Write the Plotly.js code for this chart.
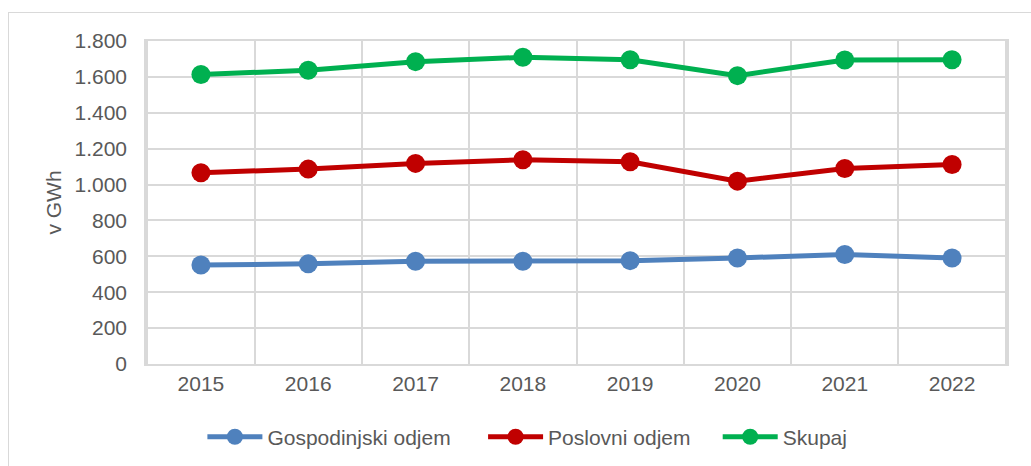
<!DOCTYPE html>
<html>
<head>
<meta charset="utf-8">
<script src="https://cdn.plot.ly/plotly-3.0.1.min.js"></script>
<style>
  html, body { margin: 0; padding: 0; background: #fff; }
  #wrap { position: relative; width: 1031px; height: 466px; overflow: hidden; }
  #chart { width: 1031px; height: 466px; }
  #frame { position: absolute; left: 8px; top: 12px; width: 1100px; height: 600px;
           border-left: 1.5px solid #d9d9d9; border-top: 1.5px solid #d9d9d9; pointer-events: none; }
</style>
</head>
<body>
<div id="wrap">
  <div id="chart"></div>
  <div id="frame"></div>
</div>
<script>
const years = ['2015', '2016', '2017', '2018', '2019', '2020', '2021', '2022'];
const gospodinjski = [552, 558, 573, 573, 576, 591, 610, 591];
const poslovni = [1066, 1086, 1118, 1138, 1127, 1019, 1090, 1112];
const skupaj = [1613, 1637, 1685, 1709, 1696, 1607, 1694, 1696];
const seriesNames = ['Gospodinjski odjem', 'Poslovni odjem', 'Skupaj'];
const yTitle = 'v GWh';

const colors = ['#4F81BD', '#C00000', '#00B050'];
const seriesData = [gospodinjski, poslovni, skupaj];
const legendIds = ['legend', 'legend2', 'legend3'];

const traces = seriesData.map((vals, i) => ({
  type: 'scatter',
  mode: 'lines+markers',
  x: years,
  y: vals,
  name: seriesNames[i],
  legend: legendIds[i],
  line: { color: colors[i], width: 5 },
  marker: { color: colors[i], size: 19 },
  hoverinfo: 'x+y+name'
}));

const font = { family: 'Liberation Sans, Arial, sans-serif', size: 21, color: '#595959' };
const legendBase = {
  orientation: 'h', yref: 'container', yanchor: 'middle', y: 0.062, xanchor: 'left',
  font: font, bgcolor: 'rgba(0,0,0,0)', itemwidth: 55, borderwidth: 0
};

const layout = {
  width: 1031, height: 466,
  margin: { l: 146, r: 24, t: 41, b: 102, autoexpand: false },
  paper_bgcolor: '#ffffff', plot_bgcolor: '#ffffff',
  separators: ',.',
  font: font,
  showlegend: true,
  xaxis: {
    type: 'category',
    tickson: 'boundaries',
    showgrid: true, gridcolor: '#d9d9d9', gridwidth: 1.5,
    showline: true, linecolor: '#d9d9d9', linewidth: 1.5, mirror: true,
    ticks: 'outside', ticklen: 11, tickcolor: 'rgba(0,0,0,0)',
    tickfont: font, zeroline: false, fixedrange: true, automargin: false
  },
  yaxis: {
    range: [0, 1800], dtick: 200, tickformat: ',d',
    showgrid: true, gridcolor: '#d9d9d9', gridwidth: 1.5,
    showline: true, linecolor: '#d9d9d9', linewidth: 1.5, mirror: true,
    ticks: 'outside', ticklen: 13, tickcolor: 'rgba(0,0,0,0)',
    tickfont: font, zeroline: false, fixedrange: true, automargin: false,
    title: { text: yTitle, font: font, standoff: 7 }
  },
  legend: Object.assign({}, legendBase, { x: 0.0655 }),
  legend2: Object.assign({}, legendBase, { x: 0.3915 }),
  legend3: Object.assign({}, legendBase, { x: 0.664 })
};

Plotly.newPlot('chart', traces, layout, { displayModeBar: false, staticPlot: false });
</script>
</body>
</html>
